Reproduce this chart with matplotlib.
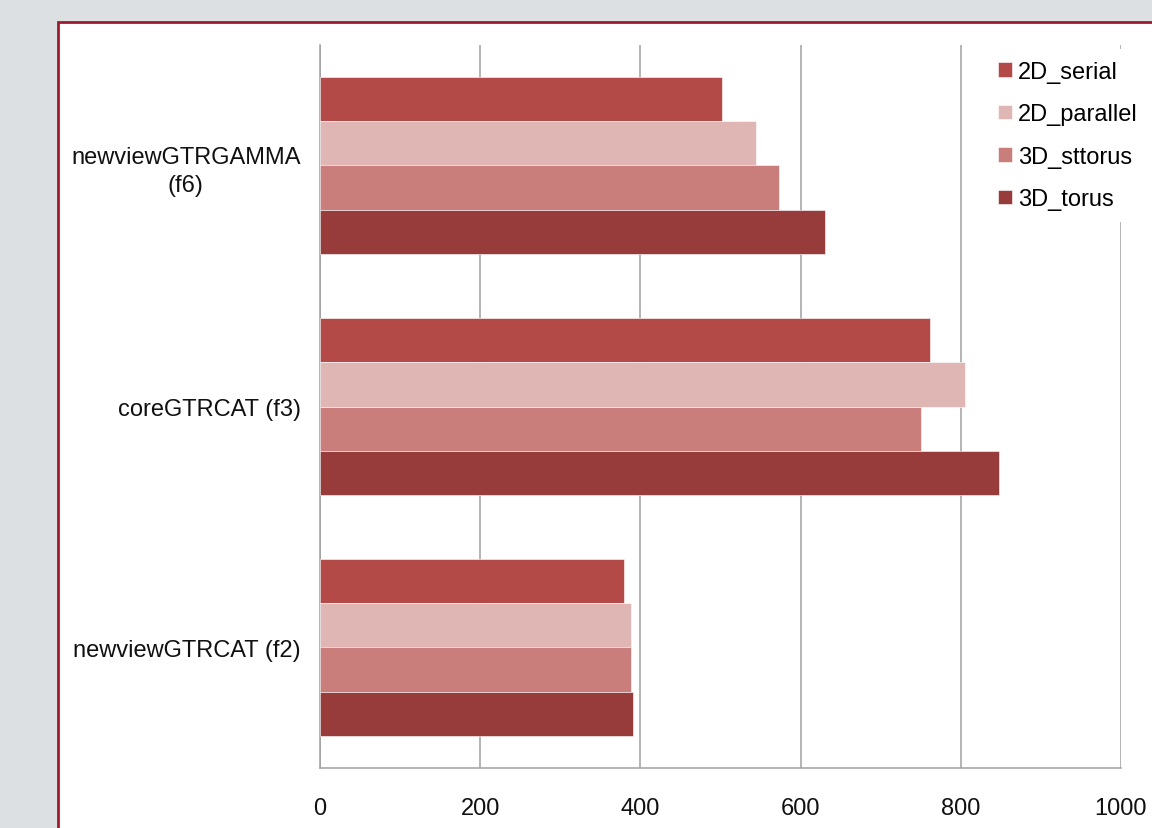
import matplotlib
matplotlib.use("Agg")
import matplotlib.pyplot as plt
import matplotlib.patches as mpatches
import numpy as np

# Categories (bottom to top) and per-series values
categories = ["newviewGTRCAT (f2)", "coreGTRCAT (f3)", "newviewGTRGAMMA\n(f6)"]
series_names = ["2D_serial", "2D_parallel", "3D_sttorus", "3D_torus"]
serial_2d = [380, 761, 502]
parallel_2d = [388, 805, 544]
sttorus_3d = [388, 750, 573]
torus_3d = [391, 848, 630]
x_ticks = [0, 200, 400, 600, 800, 1000]

series_values = [serial_2d, parallel_2d, sttorus_3d, torus_3d]
colors = ["#b34a48", "#e0b6b5", "#c97e7c", "#973c3b"]

plt.rcParams["font.family"] = ["Liberation Sans", "DejaVu Sans"]
FS = 17

W, H = 1152, 829
fig = plt.figure(figsize=(W / 100, H / 100), dpi=100)
fig.patch.set_facecolor("#dde0e3")

# White panel with dark red frame, running off the right and bottom edges
panel = mpatches.Rectangle((58 / W, 0 - 0.05), 1.2, (1 - 23 / H) + 0.05,
                           transform=fig.transFigure, facecolor="white",
                           edgecolor="#9c1c2c", linewidth=2.0, zorder=-10,
                           clip_on=False)
fig.patches.append(panel)

ax = fig.add_axes([320 / W, 60 / H, (1121 - 320) / W, (769 - 46) / H])
ax.set_facecolor("none")
ax.set_zorder(1)

bar_h = 0.1826
y = np.arange(len(categories))
for i, (name, vals, c) in enumerate(zip(series_names, series_values, colors)):
    offset = (1.5 - i) * bar_h
    ax.barh(y + offset, vals, height=bar_h, color=c, edgecolor="#ffffff",
            linewidth=0.4, label=name, zorder=3)

ax.set_xlim(0, 1000)
ax.set_ylim(-0.5, len(categories) - 0.5)
ax.set_xticks(x_ticks)
ax.set_xticklabels([str(t) for t in x_ticks])
ax.set_yticks(y)
ax.set_yticklabels(categories, multialignment="center")
for lbl in ax.get_yticklabels():
    lbl.set_linespacing(1.35)

ax.xaxis.grid(True, color="#a0a0a0", linewidth=1.1, zorder=1)
ax.set_axisbelow(True)
for s in ["top", "right"]:
    ax.spines[s].set_visible(False)
for s in ["left", "bottom"]:
    ax.spines[s].set_color("#a0a0a0")
    ax.spines[s].set_linewidth(1.1)

ax.tick_params(axis="x", length=0, pad=21, labelsize=FS, labelcolor="#111111")
ax.tick_params(axis="y", length=0, pad=14, labelsize=FS, labelcolor="#111111")

leg = ax.legend(loc="upper left", bbox_to_anchor=(986 / W, 1 - 50 / H),
                bbox_transform=fig.transFigure, frameon=True, fancybox=False,
                fontsize=FS, handlelength=0.58, handleheight=0.58,
                handletextpad=0.28, labelspacing=0.87, borderpad=0.5,
                borderaxespad=0)
leg.get_frame().set_facecolor("white")
leg.get_frame().set_edgecolor("none")
leg.get_frame().set_alpha(1.0)
leg.set_zorder(5)

fig.savefig("out.png", dpi=100, facecolor=fig.get_facecolor())
